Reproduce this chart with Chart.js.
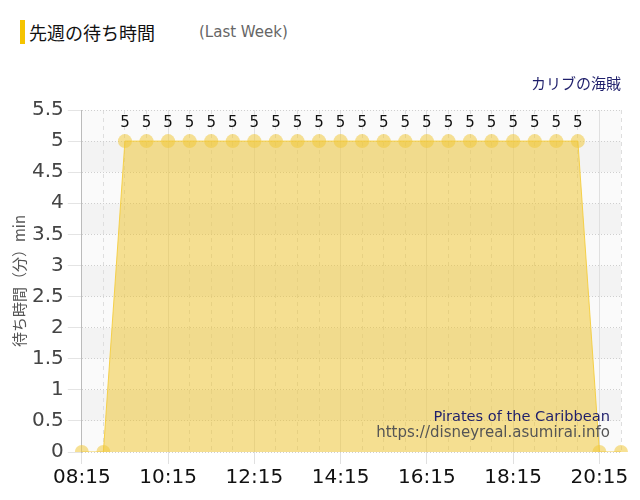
<!DOCTYPE html>
<html lang="ja">
<head>
<meta charset="utf-8">
<title>先週の待ち時間</title>
<script src="https://cdn.jsdelivr.net/npm/chart.js@4.4.1/dist/chart.umd.min.js"></script>
<style>
  html, body { margin: 0; padding: 0; background: #fff; }
  body { width: 640px; height: 500px; overflow: hidden; font-family: "Noto Sans CJK JP", sans-serif; }
  .head { position: relative; height: 60px; }
  .head .bar { position: absolute; left: 20px; top: 20px; width: 5px; height: 24px; background: #f5c400; }
  .head .ttl { position: absolute; left: 29px; top: 18px; font-size: 18px; color: #111; line-height: 28px; }
  .head .sub { position: absolute; left: 199px; top: 20px; font-family: "DejaVu Sans", sans-serif; font-size: 15px; color: #666; line-height: 24px; }
  .wrap { position: relative; width: 640px; height: 440px; }
</style>
</head>
<body>
<div class="head">
  <div class="bar"></div>
  <div class="ttl">先週の待ち時間</div>
  <div class="sub">(Last Week)</div>
</div>
<div class="wrap"><canvas id="myChart"></canvas></div>
<script>
// times every 30 min, last week
const timeLabels = [
  "08:15", "08:45", "09:15", "09:45", "10:15", "10:45", "11:15", "11:45",
  "12:15", "12:45", "13:15", "13:45", "14:15", "14:45", "15:15", "15:45",
  "16:15", "16:45", "17:15", "17:45", "18:15", "18:45", "19:15", "19:45",
  "20:15", "20:45"
];
const waitMinutes = [
  0, 0, 5, 5, 5, 5, 5, 5,
  5, 5, 5, 5, 5, 5, 5, 5,
  5, 5, 5, 5, 5, 5, 5, 5,
  0, 0
];
const yTicks = [0, 0.5, 1, 1.5, 2, 2.5, 3, 3.5, 4, 4.5, 5, 5.5];

const attractionJa = "カリブの海賊";
const attractionEn = "Pirates of the Caribbean";
const siteUrl = "https://disneyreal.asumirai.info";

const tickFont = { family: "'DejaVu Sans', sans-serif", size: 20 };

// striped background behind the plot
const bandPlugin = {
  id: "bands",
  beforeDraw: (chart) => {
    const { ctx, chartArea, scales } = chart;
    ctx.save();
    for (let i = 0; i < yTicks.length - 1; i++) {
      const top = scales.y.getPixelForValue(yTicks[i + 1]);
      const bottom = scales.y.getPixelForValue(yTicks[i]);
      ctx.fillStyle = (yTicks.length - 2 - i) % 2 === 0 ? "#fafafa" : "#f3f3f3";
      ctx.fillRect(chartArea.left, top, chartArea.right - chartArea.left, bottom - top);
    }
    ctx.restore();
  }
};

// value labels above the points + credit text
const labelPlugin = {
  id: "valueLabels",
  afterDatasetsDraw: (chart) => {
    const { ctx, chartArea } = chart;
    const meta = chart.getDatasetMeta(0);
    ctx.save();
    ctx.font = "15px 'DejaVu Sans', sans-serif";
    ctx.fillStyle = "#111";
    ctx.textAlign = "center";
    ctx.textBaseline = "bottom";
    meta.data.forEach((pt, i) => {
      if (waitMinutes[i] > 0) ctx.fillText(String(waitMinutes[i]), pt.x, pt.y - 10);
    });

    ctx.textAlign = "right";
    ctx.textBaseline = "alphabetic";
    ctx.font = "14.6px 'DejaVu Sans', sans-serif";
    ctx.fillStyle = "#1f1f6b";
    ctx.fillText(attractionEn, chartArea.right - 11, chartArea.bottom - 31);
    ctx.font = "15px 'DejaVu Sans', sans-serif";
    ctx.fillStyle = "#555";
    ctx.fillText(siteUrl, chartArea.right - 11, chartArea.bottom - 15);
    ctx.restore();
  }
};

const ctx = document.getElementById("myChart").getContext("2d");
const myChart = new Chart(ctx, {
  type: "line",
  data: {
    labels: timeLabels,
    datasets: [{
      data: waitMinutes,
      fill: true,
      backgroundColor: "rgba(240, 195, 40, 0.5)",
      borderColor: "rgba(245, 205, 60, 0.9)",
      borderWidth: 1,
      tension: 0,
      pointRadius: 7,
      pointHoverRadius: 7,
      pointBackgroundColor: "rgba(240, 200, 60, 0.55)",
      pointBorderWidth: 0
    }]
  },
  options: {
    responsive: true,
    maintainAspectRatio: false,
    animation: false,
    layout: { padding: { left: 10, right: 19, top: 0, bottom: 8 } },
    plugins: {
      legend: { display: false },
      tooltip: { enabled: false },
      title: {
        display: true,
        text: attractionJa,
        align: "end",
        color: "#1f1f6b",
        font: { family: "'Noto Sans CJK JP', sans-serif", size: 15, weight: "normal" },
        padding: { top: 14, bottom: 18 }
      }
    },
    scales: {
      x: {
        offset: false,
        ticks: {
          autoSkip: false,
          maxRotation: 0,
          color: "#111",
          font: tickFont,
          padding: 2,
          callback: (val, i) => (i % 4 === 0 ? timeLabels[i] : "")
        },
        grid: {
          color: (c) => (c.index % 4 === 0 ? "#e0e0e0" : "#dedede"),
          tickColor: (c) => (c.index % 4 === 0 ? "#e0e0e0" : "rgba(0,0,0,0)"),
          tickLength: 12
        },
        border: {
          display: false,
          dash: (c) => (c.index % 4 === 0 ? [] : [4, 4])
        }
      },
      y: {
        min: 0,
        max: 5.5,
        ticks: {
          stepSize: 0.5,
          color: "#444",
          font: tickFont,
          padding: 4,
          callback: (val) => String(val)
        },
        grid: {
          color: "#cfcfcf",
          tickColor: "#e4e4e4",
          tickLength: 14
        },
        border: {
          display: true,
          color: "#bbb",
          dash: [1, 2]
        },
        title: {
          display: true,
          text: "待ち時間（分）min",
          color: "#555",
          font: { family: "'Noto Sans CJK JP', sans-serif", size: 15 },
          padding: { top: 0, bottom: 0 }
        }
      }
    }
  },
  plugins: [bandPlugin, labelPlugin]
});
</script>
</body>
</html>
